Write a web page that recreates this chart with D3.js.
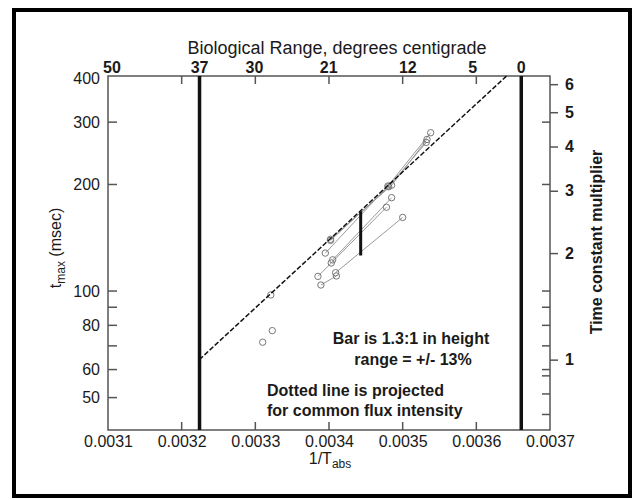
<!DOCTYPE html>
<html><head><meta charset="utf-8">
<script src="https://cdn.jsdelivr.net/npm/d3@7"></script>
<style>body{margin:0;background:#fff} svg text{font-family:"Liberation Sans",Arial,Helvetica,sans-serif;fill:#1a1a1a}</style>
</head><body><svg id="c" width="632" height="500"></svg>
<script>
// ---- data ----
const bottomTicks = [0.0031,0.0032,0.0033,0.0034,0.0035,0.0036,0.0037];
const leftLabels = [400,300,200,100,80,60,50];
const leftMinor = [90,70];
const topTemps = [50,37,30,21,12,5,0];
const rightLabels = [1,2,3,4,5,6];
const rightMinor = [0.9,0.8,0.7];
const boundaryTemps = [37,0];
const refTime = 64; // msec at multiplier 1
const projectedX = [0.003224,0.003641];
const projectedY = [64,405];
const barX = [0.003443,0.003443];
const barY = [168,126];
const run1X = [0.003395,0.003480,0.003538], run1Y = [128,198,280];
const run2X = [0.003402,0.003485,0.003533], run2Y = [140,199,268];
const run3X = [0.003402,0.003481,0.003532], run3Y = [139,197,263];
const run4X = [0.003385,0.003403,0.003478], run4Y = [110,120,172.5];
const run5X = [0.003405,0.003485], run5Y = [122.5,183.5];
const run6X = [0.003409,0.003500], run6Y = [112.7,161.4];
const run7X = [0.003389,0.003410], run7Y = [104,110.3];
const run8X = [0.003321], run8Y = [97.5];
const run9X = [0.003323], run9Y = [77.3];
const run10X = [0.003310], run10Y = [71.7];
const runs = [[run1X,run1Y],[run2X,run2Y],[run3X,run3Y],[run4X,run4Y],[run5X,run5Y],
              [run6X,run6Y],[run7X,run7Y],[run8X,run8Y],[run9X,run9Y],[run10X,run10Y]]
  .map(([xs,ys]) => xs.map((v,i)=>({x:v,y:ys[i]})));

// ---- layout ----
const svg = d3.select("#c");
const L = 108, R = 550, T = 76, B = 430;
const x = d3.scaleLinear().domain([0.0031,0.0037]).range([L,R]);
const y = d3.scaleLog().domain([40.5,405]).range([B,T]);
const yR = d3.scaleLog().domain([40.5/refTime,405/refTime]).range([B,T]);
const tInv = c => 1/(c+273.15);

// outer frame
svg.append("rect").attr("x",14).attr("y",10).attr("width",616).attr("height",486)
  .attr("fill","none").attr("stroke","#000").attr("stroke-width",4);

const axCol = "#555";
// axes
const gB = svg.append("g").attr("transform",`translate(0,${B})`)
  .call(d3.axisBottom(x).tickValues(bottomTicks).tickSize(0).tickPadding(0).tickFormat(d3.format(".4f")));
gB.selectAll(".tick text").attr("y",17).attr("dy",0).attr("font-size",16);
const gT = svg.append("g").attr("transform",`translate(0,${T})`)
  .call(d3.axisTop(x).tickValues(topTemps.map(tInv)).tickSize(0).tickPadding(0).tickFormat((d,i)=>topTemps[i]));
gT.selectAll(".tick").attr("transform",(d)=>`translate(${Math.max(x(d),L+4)},0)`);
gT.selectAll(".tick text").attr("y",-3).attr("dy",0).attr("font-size",16).attr("font-weight","bold");
const gL = svg.append("g").attr("transform",`translate(${L},0)`)
  .call(d3.axisLeft(y).tickValues(leftLabels).tickSize(0).tickPadding(8).tickFormat(d3.format("d")));
gL.selectAll(".tick text").attr("font-size",16);
const gR = svg.append("g").attr("transform",`translate(${R},0)`)
  .call(d3.axisRight(yR).tickValues(rightLabels).tickSize(8).tickPadding(7).tickFormat(d3.format("d")));
gR.selectAll(".tick text").attr("font-size",16).attr("font-weight","bold");
gR.selectAll(".tick line").attr("stroke",axCol).attr("stroke-width",1.5);
[gB,gT,gL,gR].forEach(g=>g.select(".domain").remove());

// inward ticks
const tk = svg.append("g").attr("stroke",axCol).attr("stroke-width",1.5);
const inner = bottomTicks.slice(1,-1);
tk.selectAll(".tb").data(inner).join("line").attr("x1",d=>x(d)).attr("x2",d=>x(d)).attr("y1",B).attr("y2",B-8);
tk.selectAll(".tt").data(inner).join("line").attr("x1",d=>x(d)).attr("x2",d=>x(d)).attr("y1",T).attr("y2",T+8);
const leftTicks = leftLabels.slice(1).concat(leftMinor);
tk.selectAll(".tl").data(leftTicks).join("line").attr("x1",L).attr("x2",L+9).attr("y1",d=>y(d)).attr("y2",d=>y(d));
tk.selectAll(".tr").data(leftTicks.filter(d=>d!==50)).join("line").attr("x1",R).attr("x2",R-8).attr("y1",d=>y(d)).attr("y2",d=>y(d));
tk.selectAll(".trm").data(rightMinor).join("line").attr("x1",R).attr("x2",R-8).attr("y1",d=>yR(d)).attr("y2",d=>yR(d));

// plot frame
svg.append("rect").attr("x",L).attr("y",T).attr("width",R-L).attr("height",B-T)
  .attr("fill","none").attr("stroke",axCol).attr("stroke-width",1.5);

// boundary lines
svg.selectAll(".bnd").data(boundaryTemps).join("line")
  .attr("x1",d=>x(tInv(d))).attr("x2",d=>x(tInv(d))).attr("y1",T).attr("y2",B)
  .attr("stroke","#111").attr("stroke-width",3.5);

// data runs
const line = d3.line().x(d=>x(d.x)).y(d=>y(d.y));
svg.append("g").selectAll("path").data(runs.filter(r=>r.length>1)).join("path")
  .attr("d",line).attr("fill","none").attr("stroke","#999").attr("stroke-width",1);
svg.append("g").selectAll("circle").data(runs.flat()).join("circle")
  .attr("cx",d=>x(d.x)).attr("cy",d=>y(d.y)).attr("r",3.2)
  .attr("fill","none").attr("stroke","#777").attr("stroke-width",1);

// projected dashed line
svg.append("path").datum(projectedX.map((v,i)=>({x:v,y:projectedY[i]})))
  .attr("d",line).attr("fill","none").attr("stroke","#111").attr("stroke-width",1.5)
  .attr("stroke-dasharray","5,2");

// bar
svg.append("path").datum(barX.map((v,i)=>({x:v,y:barY[i]})))
  .attr("d",line).attr("fill","none").attr("stroke","#111").attr("stroke-width",3);

// titles
svg.append("text").attr("x",337).attr("y",54).attr("text-anchor","middle").attr("font-size",18)
  .text("Biological Range, degrees centigrade");
const xt = svg.append("text").attr("x",330).attr("y",464).attr("text-anchor","middle").attr("font-size",16);
xt.append("tspan").text("1/T");
xt.append("tspan").attr("font-size",12).attr("dy",4).text("abs");
const yt = svg.append("text").attr("transform","translate(61,248) rotate(-90)").attr("text-anchor","middle").attr("font-size",16);
yt.append("tspan").text("t");
yt.append("tspan").attr("font-size",12).attr("dy",4).text("max");
yt.append("tspan").attr("dy",-4).text(" (msec)");
svg.append("text").attr("transform","translate(602,242) rotate(-90)").attr("text-anchor","middle")
  .attr("font-size",16).attr("font-weight","bold").text("Time constant multiplier");

// annotations
const ann = svg.append("g").attr("font-size",16).attr("font-weight","bold");
ann.append("text").attr("x",411).attr("y",344).attr("text-anchor","middle").text("Bar is 1.3:1 in height");
ann.append("text").attr("x",413).attr("y",365).attr("text-anchor","middle").text("range = +/- 13%");
ann.append("text").attr("x",267).attr("y",396).text("Dotted line is projected");
ann.append("text").attr("x",267).attr("y",416).text("for common flux intensity");
</script></body></html>
